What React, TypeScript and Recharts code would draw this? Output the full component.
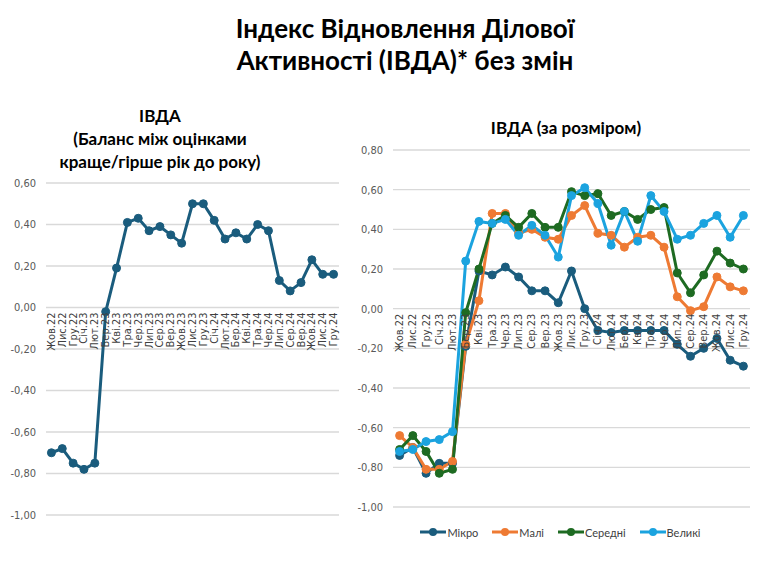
import React from "react";
import { LineChart, Line, XAxis, YAxis, CartesianGrid, Legend } from "recharts";

const categories = [
  "Жов.22", "Лис.22", "Гру.22", "Січ.23", "Лют.23", "Бер.23", "Кві.23", "Тра.23", "Чер.23",
  "Лип.23", "Сер.23", "Вер.23", "Жов.23", "Лис.23", "Гру.23", "Січ.24", "Лют.24", "Бер.24",
  "Кві.24", "Тра.24", "Чер.24", "Лип.24", "Сер.24", "Вер.24", "Жов.24", "Лис.24", "Гру.24",
];

const ivdaTotal = [
  -0.70, -0.68, -0.75, -0.78, -0.75, -0.02, 0.19, 0.41, 0.43, 0.37, 0.39, 0.35, 0.31, 0.50,
  0.50, 0.42, 0.33, 0.36, 0.33, 0.40, 0.37, 0.13, 0.08, 0.12, 0.23, 0.16, 0.16,
];

const micro = [
  -0.74, -0.70, -0.83, -0.78, -0.78, -0.19, 0.19, 0.17, 0.21, 0.16, 0.09, 0.09, 0.03, 0.19,
  0.00, -0.11, -0.12, -0.11, -0.11, -0.11, -0.11, -0.18, -0.24, -0.20, -0.15, -0.26, -0.29,
];
const small = [
  -0.64, -0.70, -0.81, -0.81, -0.77, -0.18, 0.04, 0.48, 0.48, 0.38, 0.40, 0.36, 0.35, 0.47,
  0.52, 0.38, 0.37, 0.31, 0.36, 0.37, 0.31, 0.06, -0.01, 0.01, 0.16, 0.11, 0.09,
];
const medium = [
  -0.71, -0.64, -0.72, -0.83, -0.81, -0.02, 0.20, 0.43, 0.47, 0.41, 0.48, 0.41, 0.41, 0.59,
  0.57, 0.58, 0.47, 0.49, 0.45, 0.50, 0.51, 0.18, 0.08, 0.17, 0.29, 0.23, 0.20,
];
const large = [
  -0.72, -0.71, -0.67, -0.66, -0.62, 0.24, 0.44, 0.43, 0.45, 0.37, 0.42, 0.37, 0.26, 0.57,
  0.61, 0.53, 0.32, 0.49, 0.34, 0.57, 0.49, 0.35, 0.37, 0.43, 0.47, 0.36, 0.47,
];

const leftTicks = [-1, -0.8, -0.6, -0.4, -0.2, 0, 0.2, 0.4, 0.6];
const rightTicks = [-1, -0.8, -0.6, -0.4, -0.2, 0, 0.2, 0.4, 0.6, 0.8];

const seriesDefs = [
  { key: "micro", name: "Мікро", color: "#1a5c7d", values: micro },
  { key: "small", name: "Малі", color: "#ee7a33", values: small },
  { key: "medium", name: "Середні", color: "#1e6b22", values: medium },
  { key: "large", name: "Великі", color: "#1ba3df", values: large },
];

const totalColor = "#1a5c7d";

const leftData = categories.map((c, i) => ({ month: c, total: ivdaTotal[i] }));
const rightData = categories.map((c, i) => {
  const row: Record<string, any> = { month: c };
  seriesDefs.forEach((s) => (row[s.key] = s.values[i]));
  return row;
});

const narrow = "'Liberation Sans Narrow', 'DejaVu Sans Condensed', 'Roboto', sans-serif";
const titleFont = "Lato, 'Open Sans', sans-serif";

const fmt = (v: number) => v.toFixed(2).replace(".", ",");

function makeTick(plotH: number, min: number, max: number) {
  return (props: any) => {
    const { x, y, payload } = props;
    const y0 = y - (plotH * (0 - min)) / (max - min) + 5;
    return (
      <text
        x={x}
        y={y0}
        transform={`rotate(-90, ${x}, ${y0})`}
        textAnchor="end"
        dominantBaseline="central"
        fontFamily={narrow}
        fontSize={11}
        fill="#404040"
      >
        {payload.value}
      </text>
    );
  };
}

const LegendContent = () => (
  <div
    style={{
      display: "flex",
      justifyContent: "center",
      paddingTop: 13,
      paddingLeft: 40,
      height: 22,
      alignItems: "center",
      fontFamily: titleFont,
      fontSize: 11,
      color: "#404040",
    }}
  >
    {seriesDefs.map((s) => (
      <div key={s.key} style={{ display: "flex", alignItems: "center", marginRight: 14 }}>
        <svg width={26} height={10} style={{ marginRight: 1 }}>
          <line x1={0} y1={5} x2={26} y2={5} stroke={s.color} strokeWidth={3} />
          <circle cx={13} cy={5} r={4} fill={s.color} />
        </svg>
        <span>{s.name}</span>
      </div>
    ))}
  </div>
);

export default function App() {
  const axisH = 1;

  const leftW = 345;
  const leftH = 365;
  const leftMargin = { top: 13, right: 6, bottom: 19, left: 0 };
  const leftYW = 46;
  const leftPlotH = leftH - leftMargin.top - leftMargin.bottom - axisH;
  const leftPlotW = leftW - leftMargin.left - leftMargin.right - leftYW;
  const leftPad = leftPlotW / (2 * categories.length);

  const rightW = 419;
  const rightH = 408;
  const rightMargin = { top: 15, right: 14, bottom: 0, left: 0 };
  const rightYW = 48;
  const legendH = 35;
  const rightPlotH = rightH - rightMargin.top - rightMargin.bottom - legendH - axisH;
  const rightPlotW = rightW - rightMargin.left - rightMargin.right - rightYW;
  const rightPad = rightPlotW / (2 * categories.length);

  return (
    <div
      style={{
        position: "absolute",
        left: 0,
        top: 0,
        width: 764,
        height: 567,
        background: "#ffffff",
        overflow: "hidden",
      }}
    >
      <div
        style={{
          position: "absolute",
          left: 205,
          top: 12,
          width: 400,
          textAlign: "center",
          fontFamily: titleFont,
          fontWeight: 700,
          fontSize: 26,
          lineHeight: "32px",
          color: "#000",
        }}
      >
        Індекс Відновлення Ділової
        <br />
        Активності (ІВДА)* без змін
      </div>

      <div
        style={{
          position: "absolute",
          left: 10,
          top: 104,
          width: 300,
          textAlign: "center",
          fontFamily: titleFont,
          fontWeight: 700,
          fontSize: 17,
          lineHeight: "23px",
          color: "#000",
        }}
      >
        ІВДА
        <br />
        (Баланс між оцінками
        <br />
        краще/гірше рік до року)
      </div>

      <div
        style={{
          position: "absolute",
          left: 416,
          top: 116,
          width: 300,
          textAlign: "center",
          fontFamily: titleFont,
          fontWeight: 700,
          fontSize: 17,
          lineHeight: "23px",
          color: "#000",
        }}
      >
        ІВДА (за розміром)
      </div>

      <div style={{ position: "absolute", left: 0, top: 170 }}>
        <LineChart width={leftW} height={leftH} data={leftData} margin={leftMargin}>
          <CartesianGrid horizontal vertical={false} stroke="#d9d9d9" strokeWidth={1.3} />
          <XAxis
            dataKey="month"
            interval={0}
            height={axisH}
            axisLine={false}
            tickLine={false}
            tickSize={0}
            tickMargin={0}
            padding={{ left: leftPad, right: leftPad }}
            tick={makeTick(leftPlotH, -1, 0.6)}
          />
          <YAxis
            width={leftYW}
            domain={[-1, 0.6]}
            ticks={leftTicks}
            tickFormatter={fmt}
            axisLine={false}
            tickLine={false}
            tickSize={0}
            tickMargin={10}
            tick={{ fontFamily: narrow, fontSize: 11, fill: "#595959" }}
          />
          <Line
            type="linear"
            dataKey="total"
            stroke={totalColor}
            strokeWidth={3}
            dot={{ r: 4, fill: totalColor, stroke: totalColor, strokeWidth: 1 }}
            isAnimationActive={false}
          />
        </LineChart>
      </div>

      <div style={{ position: "absolute", left: 345, top: 135 }}>
        <LineChart width={rightW} height={rightH} data={rightData} margin={rightMargin}>
          <CartesianGrid horizontal vertical={false} stroke="#d9d9d9" strokeWidth={1.3} />
          <XAxis
            dataKey="month"
            interval={0}
            height={axisH}
            axisLine={false}
            tickLine={false}
            tickSize={0}
            tickMargin={0}
            padding={{ left: rightPad, right: rightPad }}
            tick={makeTick(rightPlotH, -1, 0.8)}
          />
          <YAxis
            width={rightYW}
            domain={[-1, 0.8]}
            ticks={rightTicks}
            tickFormatter={fmt}
            axisLine={false}
            tickLine={false}
            tickSize={0}
            tickMargin={10}
            tick={{ fontFamily: narrow, fontSize: 11, fill: "#595959" }}
          />
          <Legend verticalAlign="bottom" content={<LegendContent />} />
          {seriesDefs.map((s) => (
            <Line
              key={s.key}
              type="linear"
              dataKey={s.key}
              name={s.name}
              stroke={s.color}
              strokeWidth={3}
              dot={{ r: 4, fill: s.color, stroke: s.color, strokeWidth: 1 }}
              isAnimationActive={false}
            />
          ))}
        </LineChart>
      </div>
    </div>
  );
}
